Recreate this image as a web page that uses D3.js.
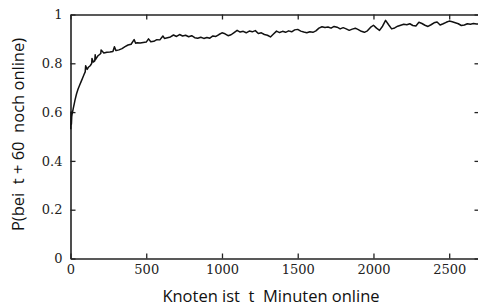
<!DOCTYPE html>
<html>
<head>
<meta charset="utf-8">
<script src="https://cdn.jsdelivr.net/npm/d3@7"></script>
<style>
  body { margin: 0; background: #fff; }
  svg { display: block; }
  .axis path, .axis line { stroke: #222; }
  .axisLabel { font-family: "Open Sans", sans-serif; font-size: 16.5px; fill: #111; white-space: pre; }
</style>
</head>
<body>
<div id="chart"></div>
<script>
  // minutes online t
  var tValues = [2, 4, 6, 8, 10, 15, 20, 25, 30, 40, 50, 60, 70, 80, 90, 97, 100, 110, 120, 130, 140, 142, 150, 160, 163, 165, 170, 180, 190, 200, 202,
    220, 240, 260, 280, 290, 300, 320, 340, 360, 380, 400, 420, 430, 440, 460, 480, 500, 515, 530, 550, 570, 590, 610, 620, 640, 660, 680,
    700, 720, 740, 760, 780, 800, 820, 840, 860, 880, 900, 920, 940, 960, 980, 1000, 1020, 1040, 1060, 1080, 1100, 1120, 1140, 1160, 1180,
    1200, 1220, 1240, 1260, 1280, 1300, 1320, 1340, 1360, 1380, 1400, 1420, 1440, 1460, 1480, 1500, 1520, 1540, 1560, 1580, 1600, 1620,
    1640, 1660, 1680, 1700, 1720, 1740, 1760, 1780, 1800, 1820, 1840, 1860, 1880, 1900, 1920, 1940, 1960, 1980, 2000, 2020, 2040, 2060,
    2080, 2100, 2120, 2140, 2160, 2180, 2200, 2220, 2240, 2260, 2280, 2300, 2320, 2340, 2360, 2380, 2400, 2420, 2440, 2460, 2480, 2500,
    2520, 2540, 2560, 2580, 2600, 2620, 2640, 2660, 2680, 2700];

  // P(still online at t + 60)
  var pValues = [0.53, 0.60, 0.55, 0.58, 0.59, 0.605, 0.62, 0.635, 0.65, 0.675, 0.695, 0.71, 0.725, 0.74, 0.755, 0.765, 0.79, 0.775, 0.785, 0.79, 0.80, 0.82, 0.805, 0.81, 0.835, 0.815, 0.82, 0.83, 0.835, 0.84, 0.855,
    0.842, 0.845, 0.846, 0.848, 0.868, 0.852, 0.855, 0.860, 0.868, 0.875, 0.878, 0.897, 0.882, 0.884, 0.883, 0.885, 0.887, 0.900, 0.888, 0.890, 0.897, 0.896, 0.912, 0.902, 0.905, 0.908, 0.916,
    0.910, 0.918, 0.912, 0.915, 0.909, 0.913, 0.905, 0.903, 0.907, 0.902, 0.906, 0.903, 0.912, 0.910, 0.918, 0.925, 0.921, 0.913, 0.917, 0.926, 0.935, 0.928, 0.931, 0.925, 0.932,
    0.929, 0.934, 0.922, 0.925, 0.918, 0.915, 0.908, 0.920, 0.932, 0.926, 0.931, 0.927, 0.933, 0.929, 0.937, 0.939, 0.932, 0.928, 0.925, 0.929, 0.927, 0.933,
    0.944, 0.950, 0.947, 0.949, 0.944, 0.951, 0.948, 0.941, 0.946, 0.941, 0.935, 0.940, 0.944, 0.938, 0.931, 0.927, 0.933, 0.947, 0.956, 0.944, 0.935, 0.952,
    0.976, 0.958, 0.941, 0.945, 0.952, 0.956, 0.960, 0.958, 0.962, 0.955, 0.953, 0.968, 0.963, 0.956, 0.951, 0.958, 0.966, 0.969, 0.957, 0.962, 0.968, 0.973,
    0.970, 0.966, 0.962, 0.955, 0.957, 0.962, 0.960, 0.963, 0.961, 0.962];

  var xTicks = [0, 500, 1000, 1500, 2000, 2500];
  var yTicks = [0, 0.2, 0.4, 0.6, 0.8, 1];

  var data = tValues.map((t, i) => ({ t: t, p: pValues[i] }));

  var W = 478, H = 306;
  var margin = { top: 14.5, right: -1.5, bottom: 47.5, left: 70.5 },
    width = W - margin.left - margin.right,
    height = H - margin.top - margin.bottom;

  var svg = d3.select("#chart").append("svg")
    .attr("width", W)
    .attr("height", H)
    .append("g")
    .attr("transform", "translate(" + margin.left + "," + margin.top + ")");

  var x = d3.scaleLinear().domain([0, 2700]).range([0, width]);
  var y = d3.scaleLinear().domain([0, 1]).range([height, 0]);

  // axes, ticks pointing inward
  svg.append("g")
    .attr("class", "axis")
    .attr("transform", "translate(0," + height + ")")
    .call(d3.axisBottom(x).tickValues(xTicks).tickFormat(d3.format("d")).tickSizeInner(-5).tickSizeOuter(0).tickPadding(6));

  svg.append("g")
    .attr("class", "axis")
    .call(d3.axisTop(x).tickValues(xTicks).tickFormat("").tickSizeInner(-5).tickSizeOuter(0));

  svg.append("g")
    .attr("class", "axis")
    .call(d3.axisLeft(y).tickValues(yTicks).tickFormat(d => d === 0 || d === 1 ? d : d3.format(".1f")(d)).tickSizeInner(-5).tickSizeOuter(0).tickPadding(8));

  svg.append("g")
    .attr("class", "axis")
    .attr("transform", "translate(" + width + ",0)")
    .call(d3.axisRight(y).tickValues(yTicks).tickFormat("").tickSizeInner(-5).tickSizeOuter(0));

  svg.selectAll(".axis")
    .attr("font-family", "'DejaVu Serif', 'Liberation Serif', serif")
    .attr("font-size", 13);
  svg.selectAll(".axis text").attr("fill", "#222");
  svg.selectAll(".axis path").attr("stroke-width", 1.6);
  svg.selectAll(".axis line").attr("stroke-width", 1.3);

  // curve
  var line = d3.line()
    .x(d => x(d.t))
    .y(d => y(d.p));

  svg.append("path")
    .datum(data)
    .attr("fill", "none")
    .attr("stroke", "#111")
    .attr("stroke-width", 1.5)
    .attr("stroke-linejoin", "round")
    .attr("d", line);

  // axis labels
  svg.append("text")
    .attr("class", "axisLabel")
    .attr("x", 271 - margin.left)
    .attr("y", 302 - margin.top)
    .attr("text-anchor", "middle")
    .text("Knoten ist  t  Minuten online");

  svg.append("text")
    .attr("class", "axisLabel")
    .attr("transform", "translate(" + (24 - margin.left) + "," + (134.5 - margin.top) + ") rotate(-90)")
    .attr("text-anchor", "middle")
    .text("P(bei  t + 60  noch online)");
</script>
</body>
</html>
